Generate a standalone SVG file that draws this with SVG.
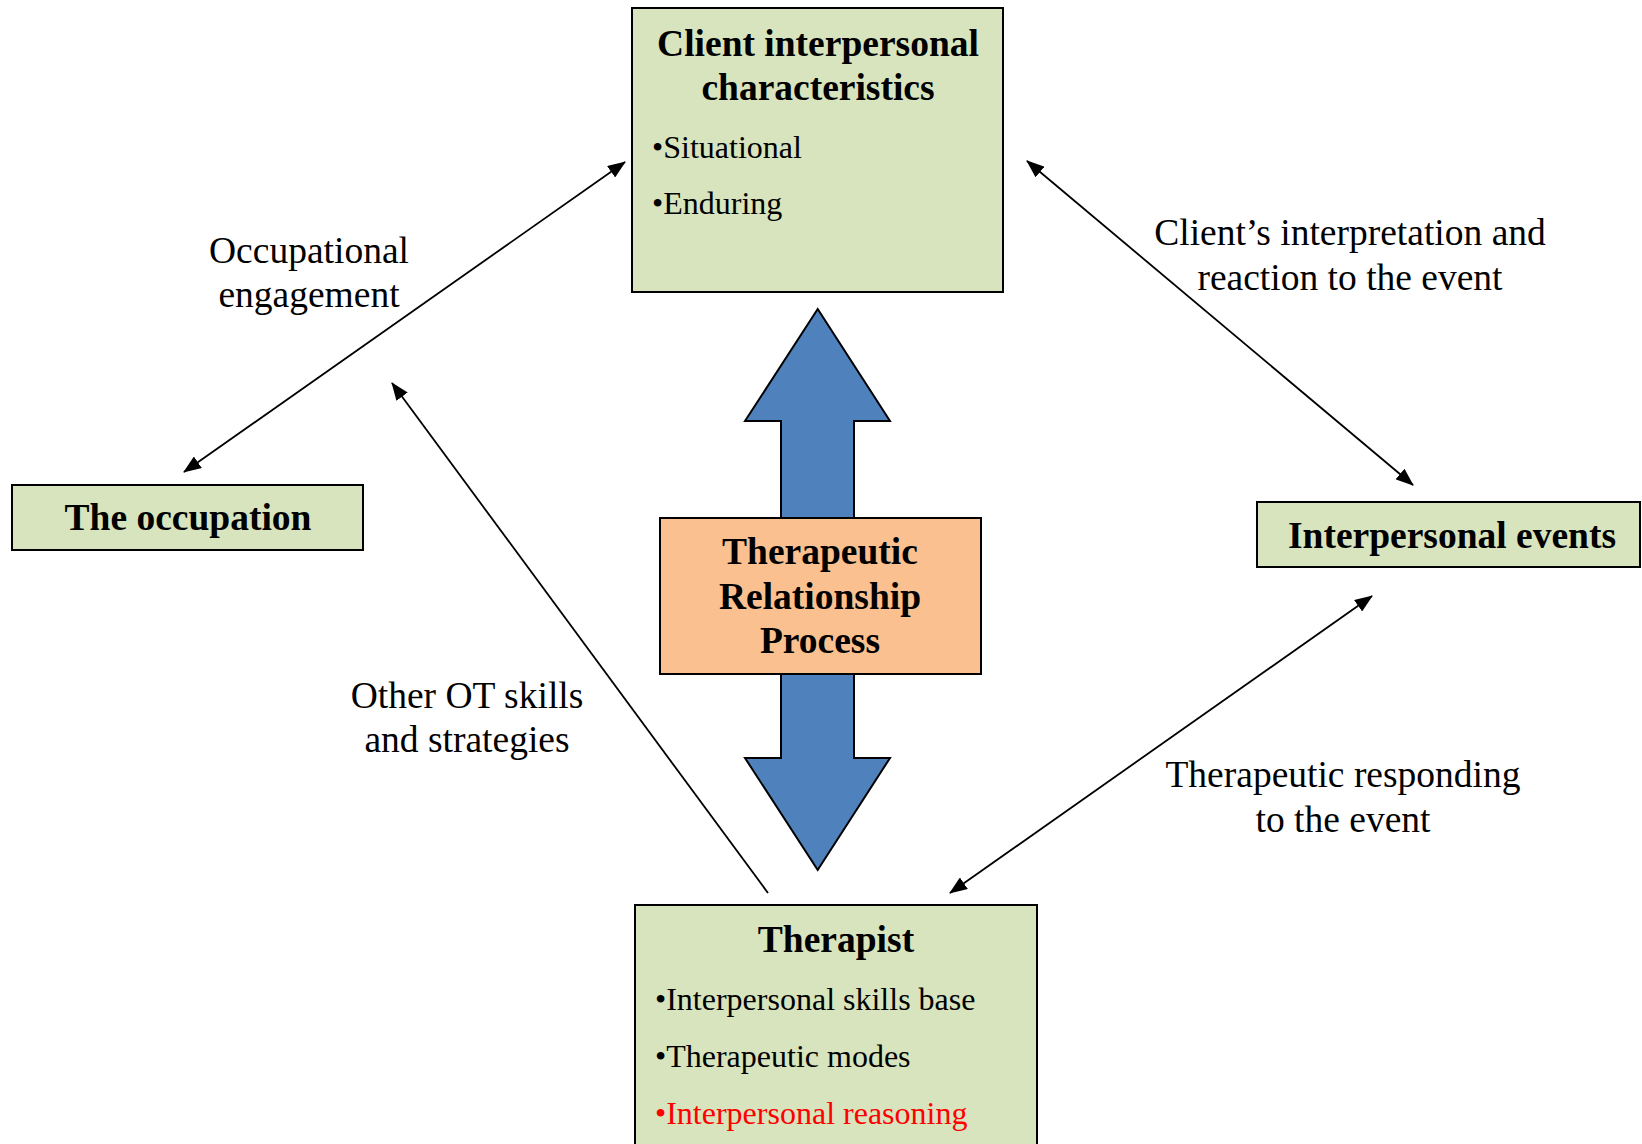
<svg xmlns="http://www.w3.org/2000/svg" width="1642" height="1144" viewBox="0 0 1642 1144">
<defs>
<style>
.box{fill:#D7E4BD;stroke:#000;stroke-width:2}
.title{font-family:"Liberation Serif","Times New Roman",serif;font-weight:bold;font-size:37.5px;fill:#000}
.item{font-family:"Liberation Serif","Times New Roman",serif;font-size:32px;fill:#000}
.lbl{font-family:"Liberation Serif","Times New Roman",serif;font-size:37.5px;fill:#000;text-anchor:middle}
.conn{stroke:#000;stroke-width:1.8;fill:none}
</style>
<marker id="ah" markerUnits="userSpaceOnUse" markerWidth="18" markerHeight="14" refX="17" refY="7" orient="auto-start-reverse">
<path d="M0,0 L18,7 L0,14 z" fill="#000"/>
</marker>
</defs>
<rect width="1642" height="1144" fill="#fff"/>

<g id="connectors">
<line class="conn" x1="184" y1="472" x2="625" y2="162" marker-start="url(#ah)" marker-end="url(#ah)"/>
<line class="conn" x1="768" y1="893" x2="392" y2="383" marker-end="url(#ah)"/>
<line class="conn" x1="1027" y1="161" x2="1413" y2="485" marker-start="url(#ah)" marker-end="url(#ah)"/>
<line class="conn" x1="950" y1="893" x2="1372" y2="596" marker-start="url(#ah)" marker-end="url(#ah)"/>
</g>

<g id="labels">
<text class="lbl" x="309" y="263">Occupational</text>
<text class="lbl" x="309" y="307">engagement</text>
<text class="lbl" x="1350" y="245">Client’s interpretation and</text>
<text class="lbl" x="1350" y="290">reaction to the event</text>
<text class="lbl" x="467" y="708">Other OT skills</text>
<text class="lbl" x="467" y="752">and strategies</text>
<text class="lbl" x="1343" y="787">Therapeutic responding</text>
<text class="lbl" x="1343" y="832">to the event</text>
</g>

<g id="big-arrow">
<polygon points="817.7,309 890,421 854,421 854,758 890,758 817.7,870 745,758 781,758 781,421 745,421" fill="#4F81BD" stroke="#000" stroke-width="2" stroke-linejoin="miter"/>
</g>

<g id="client">
<rect class="box" x="632" y="8" width="371" height="284"/>
<text class="title" x="818" y="56" text-anchor="middle">Client interpersonal</text>
<text class="title" x="818" y="100" text-anchor="middle">characteristics</text>
<text class="item" x="652" y="158">•Situational</text>
<text class="item" x="652" y="214">•Enduring</text>
</g>

<g id="occupation">
<rect class="box" x="12" y="485" width="351" height="65"/>
<text class="title" x="188" y="530" text-anchor="middle">The occupation</text>
</g>

<g id="events">
<rect class="box" x="1257" y="502" width="383" height="65"/>
<text class="title" x="1452" y="548" text-anchor="middle">Interpersonal events</text>
</g>

<g id="process">
<rect x="660" y="518" width="321" height="156" fill="#FAC090" stroke="#000" stroke-width="2"/>
<text class="title" x="820" y="564" text-anchor="middle">Therapeutic</text>
<text class="title" x="820" y="609" text-anchor="middle">Relationship</text>
<text class="title" x="820" y="653" text-anchor="middle">Process</text>
</g>

<g id="therapist">
<rect class="box" x="635" y="905" width="402" height="250"/>
<text class="title" x="836" y="952" text-anchor="middle">Therapist</text>
<text class="item" x="655" y="1010">•Interpersonal skills base</text>
<text class="item" x="655" y="1067">•Therapeutic modes</text>
<text class="item" x="655" y="1124" style="fill:#FF0000">•Interpersonal reasoning</text>
</g>
</svg>
